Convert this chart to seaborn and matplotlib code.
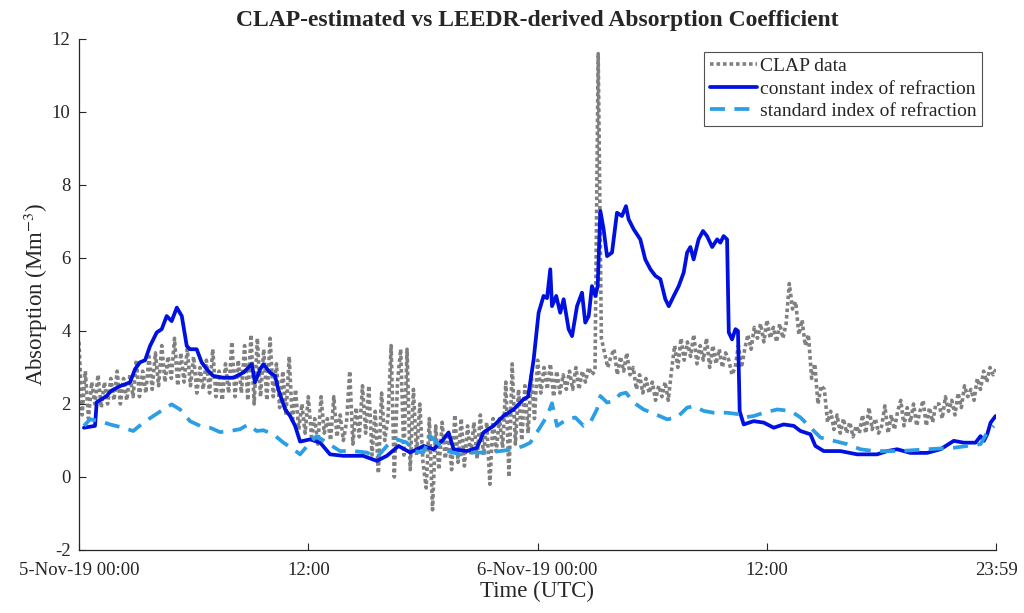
import numpy as np
import pandas as pd
import seaborn as sns
import matplotlib as mpl
mpl.use("Agg")
import matplotlib.pyplot as plt

# hours since 5-Nov-19 00:00 (UTC); CLAP sampled every 10 min
clap_hours = list(np.arange(288) / 6.0) + [47.98]
clap_vals = [
    3.7, 1.7, 2.9, 1.6, 2.6, 2.0,   2.8, 1.9, 2.6, 2.0, 2.7, 2.1,   2.9, 2.0, 2.7, 2.1, 2.8, 2.2,
    3.2, 2.2, 2.9, 2.3, 3.3, 2.4,   3.4, 2.5, 3.6, 2.6, 3.3, 2.7,   3.8, 2.5, 3.4, 2.6, 3.5, 2.5,
    3.3, 2.3, 3.0, 2.4, 3.2, 2.3,   3.5, 2.2, 2.9, 2.1, 3.1, 2.3,   3.7, 2.2, 3.2, 2.3, 3.6, 2.1,
    3.9, 2.0, 3.8, 2.2, 3.5, 2.1,   3.8, 2.2, 3.1, 1.9, 2.9, 1.7,   3.3, 1.5, 2.4, 1.3, 2.0, 1.2,
    2.2, 1.1, 1.6, 0.9, 2.2, 1.2,   1.6, 1.0, 2.2, 1.1, 1.7, 1.0,   1.5, 2.9, 0.9, 1.9, 1.1, 2.5,
    1.2, 2.5, 0.6, 1.8, 0.1, 2.3,   1.0, 1.6, 3.6, 0.0, 2.6, 3.5,   0.6, 3.5, 0.2, 2.4, 0.6, 2.0,
    0.4, -0.3, 1.6, -0.9, 1.4, 0.2, 1.5, 0.5, 1.2, 0.2, 1.7, 0.4,   1.6, 0.3, 1.4, 0.6, 1.5, 0.5,
    1.7, 0.6, 1.5, -0.2, 1.6, 0.7,  1.6, 0.8, 2.6, 0.0, 3.1, 0.9,   2.4, 1.0, 2.5, 1.2, 2.8, 1.6,
    3.2, 2.3, 3.0, 2.4, 3.1, 2.2,   2.9, 2.3, 2.8, 2.4, 2.9, 2.4,   3.0, 2.4, 2.9, 2.6, 3.0, 2.8,
    2.9, 11.6, 3.8, 3.4, 3.0, 3.3,  3.5, 2.8, 3.3, 2.9, 3.4, 2.8,   3.0, 2.4, 2.8, 2.3, 2.7, 2.3,
    2.6, 2.1, 2.5, 2.2, 2.6, 2.1,   2.9, 3.6, 3.0, 3.8, 3.2, 3.7,   3.3, 3.9, 3.1, 3.6, 3.2, 3.8,
    3.0, 3.6, 3.1, 3.5, 3.0, 3.4,   3.2, 2.8, 3.0, 3.6, 3.0, 3.5,   3.9, 3.5, 4.1, 3.8, 4.2, 3.7,
    4.3, 3.8, 4.1, 3.7, 4.2, 3.8,   4.2, 5.3, 4.6, 4.8, 3.9, 4.3,   3.6, 3.9, 2.7, 3.1, 2.0, 2.5,
    2.4, 1.5, 1.8, 1.3, 1.7, 1.2,   1.6, 1.2, 1.5, 1.1, 1.4, 1.2,   1.7, 1.2, 1.9, 1.3, 1.6, 1.2,
    1.4, 1.95, 1.2, 1.7, 1.3, 1.8,  2.1, 1.4, 1.9, 1.5, 2.0, 1.4,   1.8, 2.1, 1.4, 1.9, 1.5, 2.0,
    2.0, 1.6, 2.2, 1.8, 2.1, 1.7,   2.3, 1.9, 2.5, 2.2, 2.4, 2.1,   2.7, 2.4, 2.9, 2.6, 3.0, 2.8,
    2.95,
]

const_hours = [
    0.26, 0.84, 0.93, 1.45, 1.68, 2.15, 2.67, 2.93, 3.19, 3.46, 3.72, 4.07, 4.33, 4.59,
    4.85, 5.12, 5.38, 5.64, 5.81, 6.16, 6.42, 6.69, 7.02, 7.55, 8.08, 8.60, 9.04, 9.21,
    9.48, 9.65, 10.0, 10.26, 10.43, 10.79, 11.05, 11.31, 11.57, 12.09, 12.62, 13.14,
    13.82, 14.87, 15.59, 16.11, 16.72, 17.33, 18.03, 18.55, 19.07, 19.34, 19.60, 20.30,
    20.82, 21.17, 21.69, 22.21, 22.74, 23.26, 23.5, 23.79, 24.05, 24.31, 24.49, 24.66,
    24.75, 24.97, 25.18, 25.36, 25.62, 25.80, 26.06, 26.32, 26.49, 26.67, 26.84, 27.02,
    27.14, 27.28, 27.45, 27.63, 27.89, 28.15, 28.41, 28.62, 28.76, 29.02, 29.37, 29.63,
    29.90, 30.16, 30.42, 30.68, 30.86, 31.12, 31.38, 31.64, 31.82, 31.99, 32.16, 32.42,
    32.65, 32.86, 33.13, 33.39, 33.56, 33.73, 33.91, 34.0, 34.17, 34.35, 34.48, 34.57,
    34.78, 35.30, 35.83, 36.35, 36.87, 37.40, 37.75, 38.27, 38.53, 38.97, 39.84, 40.72,
    41.76, 42.29, 42.81, 43.50, 44.38, 45.08, 45.77, 46.30, 46.91, 47.17, 47.35, 47.52,
    47.70, 47.96,
]
const_vals = [
    1.35, 1.40, 2.05, 2.22, 2.36, 2.49, 2.59, 2.95, 3.14, 3.20, 3.59, 3.96, 4.05, 4.41,
    4.27, 4.64, 4.41, 3.59, 3.50, 3.50, 3.14, 2.95, 2.77, 2.72, 2.72, 2.86, 3.09, 2.59,
    2.95, 3.09, 2.86, 2.77, 2.40, 1.85, 1.67, 1.40, 0.97, 1.03, 0.94, 0.62,
    0.58, 0.58, 0.44, 0.58, 0.85, 0.67, 0.85, 0.76, 1.03, 1.22, 0.76, 0.71,
    0.80, 1.22, 1.40, 1.67, 1.85, 2.13, 2.20, 3.22, 4.50, 4.96, 4.90, 5.69,
    4.68, 4.96, 4.50, 4.87, 4.05, 3.86, 4.68, 5.05, 4.23, 4.41, 5.23, 4.96,
    5.23, 7.29, 6.79, 6.05, 6.15, 7.24, 7.15, 7.42, 7.06, 6.79, 6.51, 5.96,
    5.69, 5.51, 5.42, 4.87, 4.68, 4.96, 5.23, 5.60, 6.15, 6.30, 5.96, 6.51,
    6.74, 6.60, 6.30, 6.51, 6.42, 6.60, 6.51, 3.96, 3.77, 4.05, 4.00, 1.80,
    1.44, 1.53, 1.49, 1.35, 1.44, 1.40, 1.26, 1.17, 0.85, 0.71, 0.71, 0.62,
    0.62, 0.71, 0.76, 0.66, 0.66, 0.76, 0.99, 0.94, 0.94, 1.12, 0.99, 1.17,
    1.49, 1.67,
]

std_hours = [
    0.26, 0.58, 1.10, 1.62, 2.32, 2.84, 3.37, 3.89, 4.41, 4.85, 5.29, 5.81, 6.34, 6.86,
    7.38, 7.91, 8.43, 8.86, 9.30, 9.65, 10.17, 10.70, 11.22, 11.57, 12.09, 12.44, 12.97,
    13.66, 14.35, 15.06, 15.59, 16.11, 16.63, 17.16, 17.50, 18.02, 18.38, 18.73, 19.25,
    19.95, 20.64, 21.35, 22.04, 22.74, 23.26, 23.61, 23.96, 24.49, 24.75, 25.01, 25.53,
    25.97, 26.40, 26.75, 27.10, 27.28, 27.63, 27.97, 28.32, 28.62, 29.02, 29.54, 30.16,
    30.77, 31.29, 31.82, 32.16, 32.69, 33.21, 33.91, 34.52, 34.78, 35.30, 35.83, 36.53,
    37.23, 37.75, 38.36, 38.80, 39.49, 40.19, 40.89, 41.58, 42.98, 44.38, 45.77, 47.17,
    47.52, 47.87,
]
std_vals = [
    1.40, 1.58, 1.53, 1.44, 1.35, 1.26, 1.49, 1.67, 1.85, 1.99, 1.85, 1.53, 1.40, 1.35,
    1.23, 1.26, 1.31, 1.44, 1.26, 1.28, 1.17, 0.94, 0.76, 0.62, 0.94, 1.12, 0.94,
    0.71, 0.71, 0.67, 0.54, 0.85, 1.03, 0.94, 0.71, 0.67, 1.12, 0.94, 0.71,
    0.62, 0.67, 0.67, 0.71, 0.76, 0.85, 0.94, 1.22, 1.67, 2.02, 1.40, 1.58,
    1.63, 1.40, 1.49, 1.85, 2.22, 2.04, 2.08, 2.27, 2.31, 2.04, 1.85, 1.72,
    1.58, 1.63, 1.90, 1.94, 1.81, 1.76, 1.76, 1.72, 1.63, 1.67, 1.76, 1.85,
    1.81, 1.63, 1.31, 1.08, 0.99, 0.90, 0.76, 0.71, 0.71, 0.76, 0.80, 0.90,
    1.22, 1.40,
]

tick_hours = [0, 12, 24, 36, 47.983]
tick_labels = ["5-Nov-19 00:00", "12:00", "6-Nov-19 00:00", "12:00", "23:59"]

clap = pd.DataFrame({"t": clap_hours, "v": clap_vals})
const = pd.DataFrame({"t": const_hours, "v": const_vals})
std = pd.DataFrame({"t": std_hours, "v": std_vals})

sns.set_style("ticks")
plt.rcParams["font.family"] = ["Liberation Serif", "DejaVu Serif"]
plt.rcParams["mathtext.fontset"] = "stix"
plt.rcParams["axes.unicode_minus"] = False

fig = plt.figure(figsize=(10.24, 6.13), dpi=100)
ax = fig.add_axes([0.0771, 0.1028, 0.8956, 0.8336])

sns.lineplot(data=clap, x="t", y="v", ax=ax, color="#808080", lw=2.6,
             linestyle=(0, (1, 0.8)), label="CLAP data", sort=False)
sns.lineplot(data=const, x="t", y="v", ax=ax, color="#0010e0", lw=2.7,
             label="constant index of refraction", sort=False)
sns.lineplot(data=std, x="t", y="v", ax=ax, color="#2c9ee6", lw=2.7,
             linestyle=(0, (4, 2.5)), label="standard index of refraction", sort=False)

ax.set_xlim(0, 47.983)
ax.set_ylim(-2, 12)
ax.set_xticks(tick_hours)
ax.set_xticklabels(tick_labels)
ax.set_yticks(range(-2, 13, 2))
ax.tick_params(direction="in", labelsize=13.5, colors="#262626", length=5, width=0.8)
ax.tick_params(axis="x", pad=9)
ax.tick_params(axis="y", pad=6)
for s in ["top", "right"]:
    ax.spines[s].set_visible(False)
for s in ["left", "bottom"]:
    ax.spines[s].set_color("#262626")
    ax.spines[s].set_linewidth(0.9)

ax.set_xlabel("Time (UTC)", fontsize=16.5, labelpad=1)
ax.set_ylabel("Absorption (Mm$^{-3}$)", fontsize=16.5, labelpad=1)
ax.set_title("CLAP-estimated vs LEEDR-derived Absorption Coefficient",
             fontsize=17, fontweight="bold", pad=9)

leg = ax.legend(loc="upper right", fontsize=14, frameon=True, fancybox=False,
                handlelength=2.4, handletextpad=0.15, borderpad=0.3,
                labelspacing=0.25, borderaxespad=0, bbox_to_anchor=(0.985, 0.975))
leg.get_frame().set_edgecolor("#262626")
leg.get_frame().set_linewidth(0.8)

fig.savefig("out.png", dpi=100)
